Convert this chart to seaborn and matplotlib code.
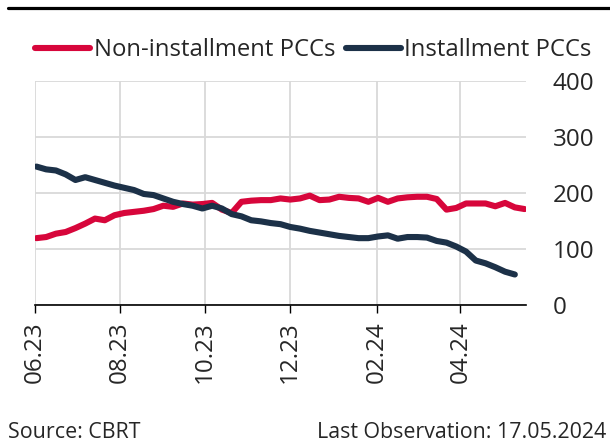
import pandas as pd
import matplotlib.pyplot as plt
import matplotlib.dates as mdates
from matplotlib.lines import Line2D
import seaborn as sns

# weekly observations (Fridays)
dates = pd.date_range("2023-06-02", "2024-05-17", freq="7D")

non_installment = [119, 121, 127, 130, 137, 145, 154, 151, 160, 164,
                   166, 168, 171, 177, 175, 181, 179, 180, 182, 170,
                   164, 184, 186, 187, 187, 190, 188, 190, 195, 187,
                   188, 193, 191, 190, 184, 191, 184, 190, 192, 193,
                   193, 189, 170, 173, 181, 181, 181, 176, 182, 174,
                   171]
installment = [247, 242, 240, 233, 223, 228, 223, 218, 213, 209,
               205, 198, 196, 190, 184, 180, 177, 172, 177, 172,
               162, 158, 151, 149, 146, 144, 139, 136, 132, 129,
               126, 123, 121, 119, 119, 122, 124, 118, 121, 121,
               120, 114, 111, 104, 95, 79, 74, 67, 59, 54]

series_names = ["Non-installment PCCs", "Installment PCCs"]
colors = ["#D7063B", "#1C3148"]
tick_months = pd.date_range("2023-06-01", "2024-04-01", freq="2MS")

df = pd.concat([
    pd.DataFrame({"date": dates, "value": non_installment, "series": series_names[0]}),
    pd.DataFrame({"date": dates[:len(installment)], "value": installment, "series": series_names[1]}),
])

sns.set_style("white")
plt.rcParams["font.family"] = ["Open Sans", "DejaVu Sans"]
fs = 17.2

fig = plt.figure(figsize=(6.1, 4.45), dpi=100)
ax = fig.add_axes([35 / 610, 1 - 304.7 / 445, (526 - 35) / 610, (304.7 - 81) / 445])

sns.lineplot(data=df, x="date", y="value", hue="series", palette=colors,
             linewidth=4.4, ax=ax, legend=False, solid_capstyle="round")

ax.set_ylim(0, 400)
ax.set_yticks([0, 100, 200, 300, 400])
ax.set_xlim(pd.Timestamp("2023-06-01"), pd.Timestamp("2024-05-18"))
ax.set_xticks(tick_months)
ax.xaxis.set_major_formatter(mdates.DateFormatter("%m.%y"))
ax.yaxis.tick_right()
ax.tick_params(axis="y", length=0, pad=19, labelsize=17.4)
ax.tick_params(axis="x", length=6, width=1, color="black", rotation=90,
               labelsize=17.4, bottom=True, direction="out", pad=6)
ax.grid(True, color="#D9D9D9", linewidth=1.3)
ax.set_axisbelow(True)
ax.set_xlabel("")
ax.set_ylabel("")
for side in ["top", "left", "right"]:
    ax.spines[side].set_visible(False)
ax.spines["bottom"].set_color("black")
ax.spines["bottom"].set_linewidth(1.2)

handles = [Line2D([0], [0], color=c, linewidth=4.4, solid_capstyle="round") for c in colors]
fig.legend(handles, series_names, loc="center left", bbox_to_anchor=(35 / 610, 1 - 50 / 445),
           ncol=2, frameon=False, handlelength=2.3, handletextpad=0.15,
           columnspacing=0.45, borderaxespad=0, borderpad=0, fontsize=fs)

fig.add_artist(Line2D([8 / 610, 1], [1 - 8 / 445, 1 - 8 / 445], color="black",
                      linewidth=2.3, transform=fig.transFigure))

fig.text(8 / 610, 1 - 433 / 445, "Source: CBRT", fontsize=15.4, va="center", ha="left")
fig.text(606 / 610, 1 - 433 / 445, "Last Observation: 17.05.2024", fontsize=15.4,
         va="center", ha="right")

fig.savefig("out.png", dpi=100)
